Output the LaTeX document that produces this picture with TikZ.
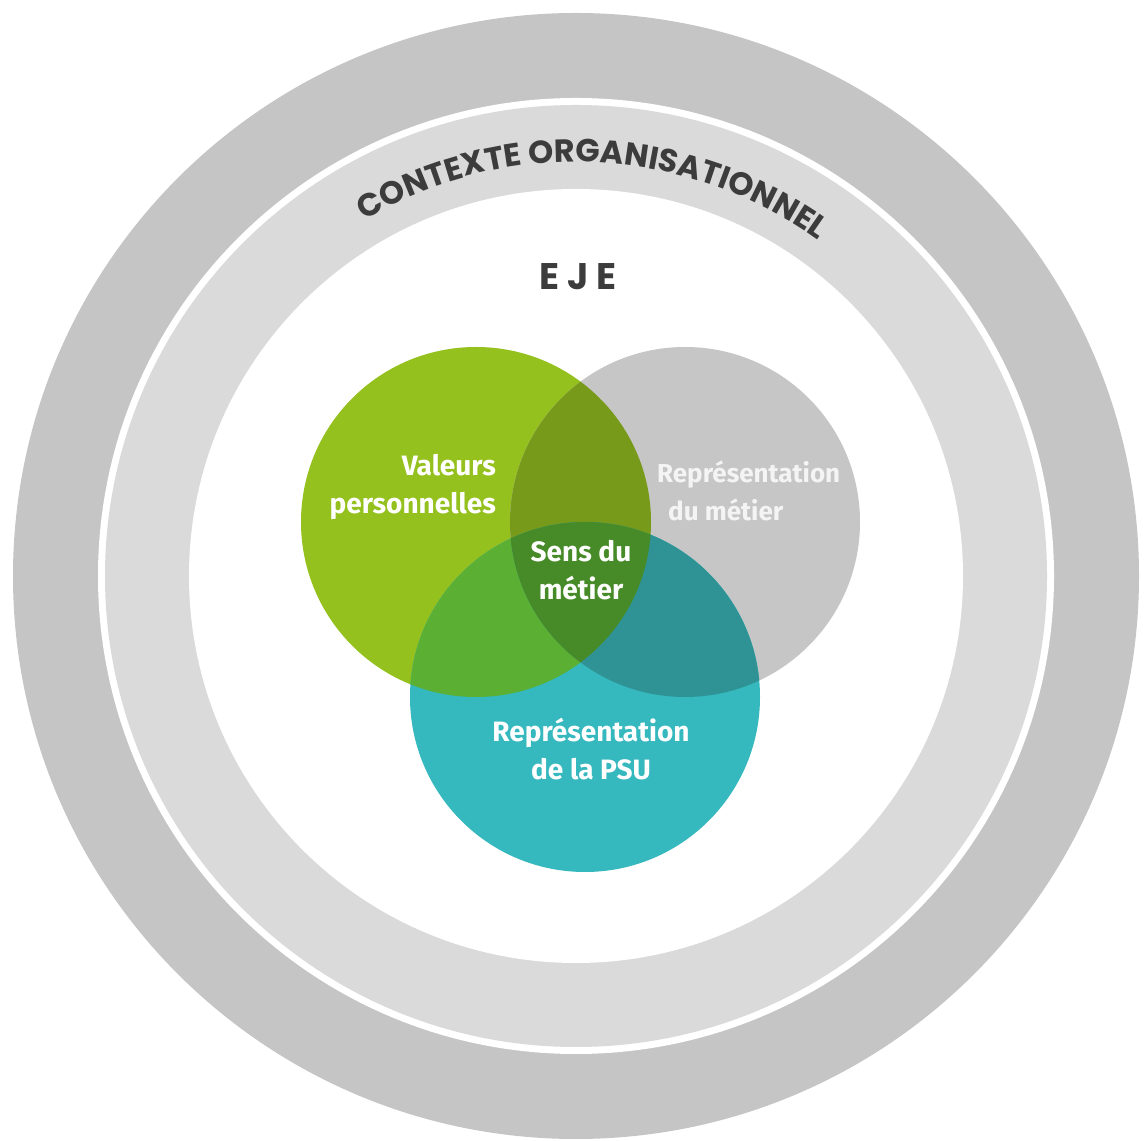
\documentclass[tikz,border=0pt]{standalone}
\usepackage{fontspec}
\setmainfont{Fira Sans}
\newfontfamily\ringfont{Poppins}
\usetikzlibrary{decorations.text}

\definecolor{ringdark}{HTML}{C6C5C6}
\definecolor{ringlight}{HTML}{DADADA}
\definecolor{textdark}{HTML}{3C3C3C}
\definecolor{vgreen}{HTML}{95C11F}
\definecolor{vgray}{HTML}{C6C6C6}
\definecolor{vteal}{HTML}{35B8BE}
\definecolor{greengray}{HTML}{789A1B}
\definecolor{greenteal}{HTML}{5BAF32}
\definecolor{grayteal}{HTML}{2F9395}
\definecolor{allthree}{HTML}{478B28}
\definecolor{softwhite}{HTML}{F4F4F4}

\begin{document}
\begin{tikzpicture}[x=1pt,y=1pt]
\useasboundingbox (0,0) rectangle (1144,1141);

%RINGS/BACKGROUND
\coordinate (middle) at (576,565);
\fill[ringdark] (middle) circle (563);
\fill[white] (middle) circle (478);
\fill[ringlight] (middle) circle (471);
\fill[white] (middle) circle (387);

%ring text
\path[decorate,decoration={text along path,text align=center,
  text={|\ringfont\bfseries\fontsize{32}{32}\selectfont\color{textdark}|CONTEXTE ORGANISATIONNEL}}]
  (middle) ++(127:414) arc[start angle=127,end angle=48,radius=414];
\node[font=\ringfont\bfseries\fontsize{37}{37}\selectfont,text=textdark,anchor=base] (eje) at (578,851) {E~J~E};

%%%%%%%%%%%%%%%%%%%%%%%%%%%%%%%%%%%%%%%%%%%%%%%%%%%%%%%%%%%%%%
%circles
\tikzstyle{venn}=[circle,minimum size=350pt,inner sep=0pt]
\tikzstyle{vlabel}=[text=white,font=\bfseries\fontsize{28}{38}\selectfont,inner sep=0pt]

%valeurs
\node[venn,fill=vgreen] (valeurs) at (476,619) {};
%metier
\node[venn,fill=vgray] (metier) at (685,619) {};
%psu
\node[venn,fill=vteal] (psu) at (585,444) {};

%overlaps
\begin{scope}
\clip (valeurs.center) circle (175);
\fill[greengray] (metier.center) circle (175);
\fill[greenteal] (psu.center) circle (175);
\end{scope}
\begin{scope}
\clip (metier.center) circle (175);
\fill[grayteal] (psu.center) circle (175);
\clip (valeurs.center) circle (175);
\fill[allthree] (psu.center) circle (175);
\end{scope}

%%%%%%%%%%%%%%%%%%%%%%%%%%%%%%%%%%%%%%%%%%%%%%%%%%%%%%%%%%%%%%
%LABELS
\node[vlabel,align=right,anchor=base east] (valeurstext) at (496,627) {Valeurs\\personnelles};
\node[vlabel,text=softwhite,font=\bfseries\fontsize{26}{38}\selectfont,align=left,anchor=base west] (metiertext) at (657,620) {Représentation\\\hspace*{11pt}du métier};
\node[vlabel,align=center,anchor=base] (senstext) at (581,541) {Sens du\\métier};
\node[vlabel,align=center,anchor=base] (psutext) at (591,361) {Représentation\\de la PSU};
\end{tikzpicture}
\end{document}
